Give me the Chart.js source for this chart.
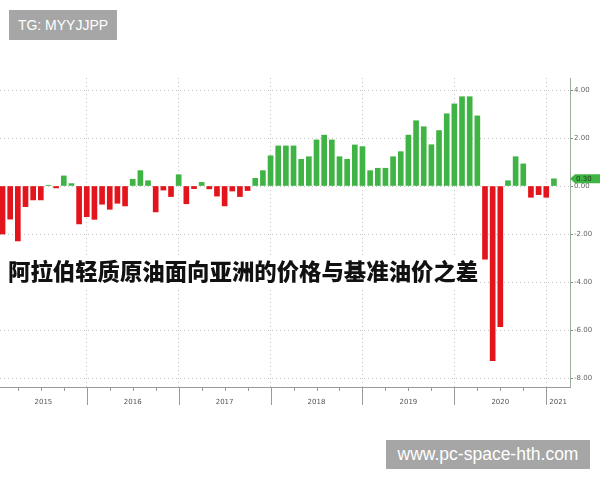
<!DOCTYPE html>
<html>
<head>
<meta charset="utf-8">
<script src="https://cdn.jsdelivr.net/npm/chart.js@4.4.1/dist/chart.umd.min.js"></script>
<style>
  html, body { margin: 0; padding: 0; background: #fff; }
  #wrap { position: relative; width: 600px; height: 480px; }
  .wm { position: absolute; background: #a6a6a6; color: #fff; font-family: 'Liberation Sans', Arial, sans-serif;
        display: flex; align-items: center; justify-content: center; }
  #wm1 { left: 9px; top: 10px; width: 108px; height: 30px; font-size: 14px; }
  #wm2 { left: 386px; top: 440px; width: 204px; height: 29px; font-size: 17.5px; }
</style>
</head>
<body>
<div id="wrap">
  <canvas id="c" width="600" height="480"></canvas>
  <div class="wm" id="wm1">TG: MYYJJPP</div>
  <div class="wm" id="wm2">www.pc-space-hth.com</div>
</div>
<script>
// 月度价差（2015年1月 – 2021年1月），美元/桶
const spread = [
  -2.0, -1.38, -2.29, -0.86, -0.58, -0.58, 0.03, -0.08, 0.42, 0.1, -1.58, -1.28,
  -1.39, -0.76, -0.97, -0.72, -0.83, 0.28, 0.64, 0.22, -1.08, -0.17, -0.44, 0.47,
  -0.74, -0.11, 0.15, -0.12, -0.42, -0.83, -0.21, -0.44, -0.19, 0.32, 0.64, 1.26,
  1.67, 1.67, 1.67, 1.11, 1.22, 1.92, 2.12, 1.92, 1.22, 1.11, 1.71, 1.64,
  0.64, 0.74, 0.74, 1.22, 1.43, 2.12, 2.72, 2.47, 1.72, 2.31, 3.01, 3.42,
  3.72, 3.72, 2.92, -3.05, -7.28, -5.86, 0.22, 1.22, 0.92, -0.47, -0.36, -0.47,
  0.30
];
const years = ['2015', '2016', '2017', '2018', '2019', '2020', '2021'];
const yearEnds = [11, 23, 35, 47, 59, 71];   // 每年12月的柱子位置
const yTicks = [-8, -6, -4, -2, 0, 2, 4];
const title = '阿拉伯轻质原油面向亚洲的价格与基准油价之差';
const lastValue = spread[spread.length - 1];

const GREEN = '#3fb344';
const RED = '#e3141b';

// ── 标题、年份、最新值标签 ──────────────────────────────
const decor = {
  id: 'decor',
  afterDraw(chart) {
    const { ctx, chartArea: a, scales: { x, y } } = chart;
    ctx.save();

    // 横轴下方：季度刻度、年份分隔线、年份文字
    ctx.strokeStyle = '#9a9a9a';
    ctx.lineWidth = 1;
    for (let i = 2; i < spread.length; i += 3) {
      const px = Math.round(x.getPixelForValue(i)) + 0.5;
      const len = yearEnds.includes(i) ? 18 : 4;
      ctx.beginPath(); ctx.moveTo(px, a.bottom); ctx.lineTo(px, a.bottom + len); ctx.stroke();
    }
    const bounds = [a.left, ...yearEnds.map(v => x.getPixelForValue(v)), a.right];
    ctx.fillStyle = '#555';
    ctx.font = '7px "DejaVu Sans", sans-serif';
    ctx.textAlign = 'center';
    ctx.textBaseline = 'middle';
    years.forEach((yr, i) => ctx.fillText(yr, (bounds[i] + bounds[i + 1]) / 2, a.bottom + 15));

    // 最新值标签
    const ty = y.getPixelForValue(lastValue);
    ctx.fillStyle = GREEN;
    ctx.beginPath();
    ctx.moveTo(a.right, ty);
    ctx.lineTo(a.right + 5, ty - 4.5);
    ctx.lineTo(600, ty - 4.5);
    ctx.lineTo(600, ty + 4.5);
    ctx.lineTo(a.right + 5, ty + 4.5);
    ctx.closePath();
    ctx.fill();
    ctx.fillStyle = '#1d3b1d';
    ctx.textAlign = 'left';
    ctx.fillText(lastValue.toFixed(2), a.right + 6, ty + 0.5);

    // 标题（白底）
    ctx.fillStyle = '#fff';
    ctx.fillRect(0, 255, 479, 33);
    ctx.fillStyle = '#111';
    ctx.font = '900 22.4px "Noto Sans CJK SC", sans-serif';
    ctx.textBaseline = 'middle';
    ctx.fillText(title, 8, 271);

    ctx.restore();
  }
};

new Chart(document.getElementById('c'), {
  type: 'bar',
  data: {
    datasets: [{
      data: spread.map((v, i) => ({ x: i, y: v })),
      backgroundColor: spread.map(v => v >= 0 ? GREEN : RED),
      barThickness: 5,
      borderWidth: 0
    }]
  },
  options: {
    responsive: false,
    animation: false,
    layout: { padding: { top: 78, bottom: 93, left: 0, right: 0 } },
    plugins: { legend: { display: false }, tooltip: { enabled: false } },
    scales: {
      x: {
        type: 'linear', min: -0.33, max: 74.1, offset: false,
        afterBuildTicks: s => { s.ticks = yearEnds.map(v => ({ value: v })); },
        afterFit: s => { s.height = 0; },
        ticks: { display: false },
        grid: { color: '#c4c4c4', drawTicks: false, offset: false },
        border: { display: true, color: '#9a9a9a', dash: [1, 3] }
      },
      y: {
        position: 'right', min: -8.375, max: 4.5,
        afterBuildTicks: s => { s.ticks = yTicks.map(v => ({ value: v })); },
        afterFit: s => { s.width = 30; },
        ticks: { color: '#666', font: { size: 7, family: 'DejaVu Sans' }, padding: 1, callback: v => v.toFixed(2) },
        grid: { color: '#c4c4c4', tickLength: 3, tickColor: '#5aa65a' },
        border: { display: true, color: '#9aae9a', dash: [1, 3] }
      }
    }
  },
  plugins: [decor]
});
</script>
</body>
</html>
